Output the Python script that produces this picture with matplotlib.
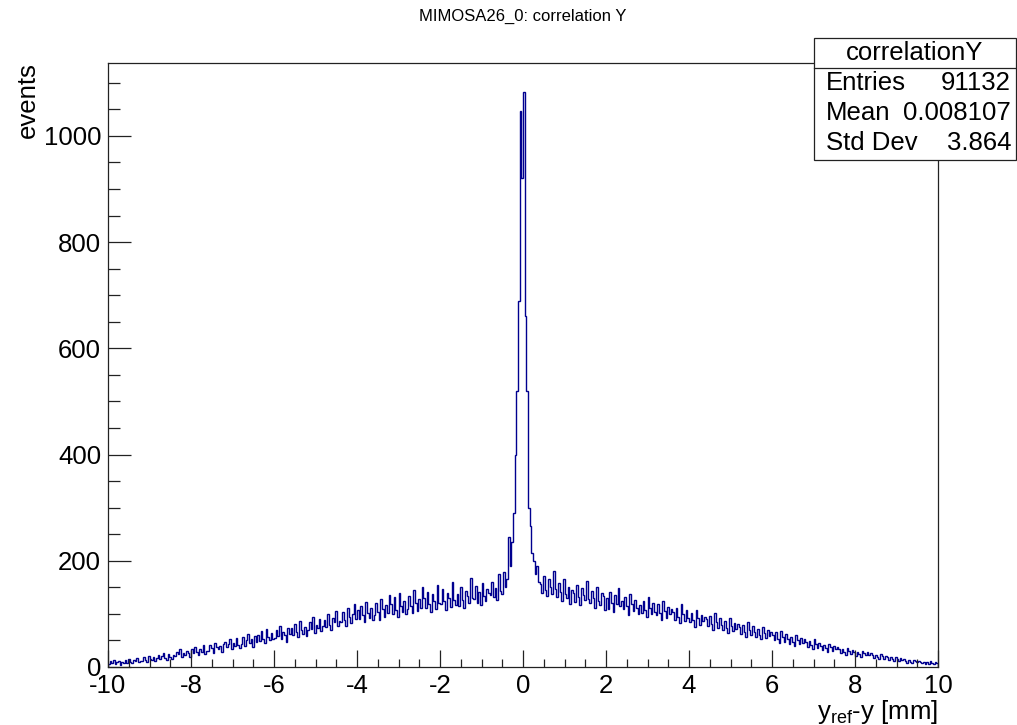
import numpy as np
import matplotlib
matplotlib.use("Agg")
import matplotlib.pyplot as plt
from matplotlib.patches import Rectangle
from matplotlib.lines import Line2D

plt.rcParams['font.family'] = ['Liberation Sans', 'DejaVu Sans']
plt.rcParams['mathtext.fontset'] = 'custom'
plt.rcParams['mathtext.rm'] = 'Liberation Sans'
plt.rcParams['mathtext.it'] = 'Liberation Sans'

# ---- data: histogram of y_ref - y, 0.04 mm bins from -10 to 10 ----
x_min, x_max, n_bins = -10.0, 10.0, 500

counts_left = [
    5, 11, 8, 14, 6, 9, 12, 4, 10, 7,
    13, 8, 16, 10, 7, 14, 11, 17, 9, 12,
    12, 19, 14, 10, 21, 16, 13, 18, 11, 17,
    22, 15, 20, 26, 17, 13, 24, 19, 16, 23,
    21, 29, 24, 33, 19, 27, 22, 31, 26, 18,
    34, 26, 38, 28, 23, 33, 29, 41, 25, 31,
    31, 42, 35, 27, 45, 38, 33, 40, 29, 44,
    47, 37, 43, 52, 34, 45, 39, 55, 41, 36,
    44, 56, 40, 51, 62, 46, 53, 38, 58, 48,
    60, 49, 67, 53, 45, 71, 57, 50, 64, 52,
    55, 70, 58, 77, 52, 65, 61, 48, 74, 63,
    73, 60, 81, 66, 56, 86, 70, 62, 75, 59,
    69, 84, 72, 95, 64, 80, 74, 90, 67, 78,
    88, 75, 99, 80, 70, 92, 84, 106, 77, 86,
    85, 103, 89, 78, 112, 94, 83, 100, 118, 90,
    108, 91, 115, 97, 84, 122, 102, 93, 111, 88,
    98, 120, 104, 89, 128, 110, 95, 116, 101, 135,
    118, 100, 131, 108, 95, 140, 114, 104, 125, 99,
    110, 134, 115, 101, 145, 121, 106, 128, 112, 150,
    130, 112, 141, 118, 104, 137, 125, 109, 155, 120,
    119, 146, 124, 108, 139, 130, 113, 160, 126, 117,
    138, 115, 150, 127, 112, 144, 133, 120, 168, 129,
    128, 152, 121, 141, 117, 158, 134, 125, 147, 139,
    135, 160, 131, 149, 126, 175, 143, 137, 178, 150,
]

counts_peak = [
    165, 245, 190, 235, 290, 400, 520, 690, 1047, 920,
    1083, 660, 520, 300, 265, 215, 200, 175, 190, 160,
]

counts_right = [
    156, 140, 172, 145, 133, 165, 150, 138, 181, 147,
    132, 158, 141, 124, 166, 137, 129, 150, 118, 145,
    140, 122, 155, 131, 117, 148, 136, 126, 162, 128,
    121, 143, 130, 112, 150, 125, 116, 139, 133, 108,
    129, 110, 141, 120, 104, 135, 118, 148, 115, 124,
    109, 131, 114, 98, 138, 119, 105, 127, 112, 100,
    116, 101, 125, 107, 94, 131, 112, 99, 120, 104,
    97, 118, 102, 88, 125, 106, 93, 113, 99, 110,
    104, 89, 111, 94, 82, 118, 99, 86, 108, 92,
    84, 101, 88, 76, 107, 93, 80, 98, 86, 95,
    90, 77, 96, 81, 70, 101, 85, 74, 92, 79,
    70, 86, 73, 64, 92, 78, 67, 83, 71, 81,
    75, 62, 80, 66, 57, 84, 70, 60, 77, 65,
    56, 71, 60, 52, 76, 64, 54, 69, 58, 66,
    61, 50, 65, 53, 45, 68, 57, 48, 62, 52,
    44, 57, 47, 40, 60, 51, 43, 55, 46, 52,
    47, 37, 49, 41, 34, 52, 43, 36, 46, 39,
    32, 41, 35, 29, 44, 37, 31, 40, 34, 38,
    34, 26, 33, 28, 23, 36, 30, 25, 32, 28,
    21, 29, 24, 19, 31, 26, 22, 28, 23, 27,
    23, 17, 22, 18, 15, 24, 20, 16, 21, 19,
    13, 18, 15, 11, 19, 16, 12, 17, 14, 15,
    12, 8, 13, 10, 7, 14, 11, 9, 12, 10,
    7, 10, 6, 9, 5, 11, 8, 6, 9, 7,
]

title = "MIMOSA26_0: correlation Y"
hist_name = "correlationY"
stat_labels = ["Entries", "Mean", "Std Dev"]
stat_values = ["91132", "0.008107", "3.864"]
x_ticks = [-10, -8, -6, -4, -2, 0, 2, 4, 6, 8, 10]
y_ticks = [0, 200, 400, 600, 800, 1000]

counts = np.array(counts_left + counts_peak + counts_right, dtype=float)
edges = np.linspace(x_min, x_max, n_bins + 1)

W, H = 1017, 725
fig = plt.figure(figsize=(W / 100, H / 100), dpi=100)
fig.patch.set_facecolor("white")
ax = fig.add_axes([108 / W, 1 - 667 / H, (938 - 108) / W, (667 - 63) / H])

ax.stairs(counts, edges, color="#00008f", lw=1.0)

ax.set_xlim(x_min, x_max)
ax.set_ylim(0, counts.max() * 1.05)

ax.set_xticks(x_ticks)
ax.set_xticks(np.arange(-10, 10.01, 0.5), minor=True)
ax.set_yticks(y_ticks)
ax.set_yticks(np.arange(0, 1101, 50), minor=True)
ax.set_xticklabels([str(t) for t in x_ticks])

ax.tick_params(axis="both", which="both", direction="in", top=False, right=False,
               labelsize=18.5, width=0.9, color="#222222")
ax.tick_params(axis="x", which="major", length=12.5, pad=5)
ax.tick_params(axis="x", which="minor", length=6)
ax.tick_params(axis="y", which="major", length=16.5, pad=5)
ax.tick_params(axis="y", which="minor", length=8.5)
for s in ax.spines.values():
    s.set_linewidth(0.9)
    s.set_color("#222222")

# title
fig.text(523 / W, 1 - 16 / H, title, ha="center", va="center", fontsize=12)

# axis labels (ROOT style: right/top aligned)
fig.text(938 / W, 1 - 719 / H, r"y$_{\mathregular{ref}}$-y [mm]", ha="right",
         va="baseline", fontsize=18.5)
fig.text(28 / W, 1 - 62 / H, "events", rotation=90, ha="center", va="top",
         fontsize=18.5)

# stats box
bx0, bx1, by0, by1, byh = 814, 1016, 38, 160, 68
fig.patches.append(Rectangle((bx0 / W, 1 - by1 / H), (bx1 - bx0) / W, (by1 - by0) / H,
                             transform=fig.transFigure, facecolor="white",
                             edgecolor="#222222", lw=0.9, zorder=5))
fig.lines.append(Line2D([bx0 / W, bx1 / W], [1 - byh / H, 1 - byh / H],
                        transform=fig.transFigure, color="#222222", lw=0.9, zorder=6))
fig.text((bx0 + bx1) / 2 / W, 1 - 53 / H, hist_name, ha="center", va="center",
         fontsize=18.5, zorder=7)
for i, (lab, val) in enumerate(zip(stat_labels, stat_values)):
    yy = 1 - (83 + 30 * i) / H
    fig.text(826 / W, yy, lab, ha="left", va="center", fontsize=18.5, zorder=7)
    fig.text(1011 / W, yy, val, ha="right", va="center", fontsize=18.5, zorder=7)

fig.savefig("out.png", dpi=100)
